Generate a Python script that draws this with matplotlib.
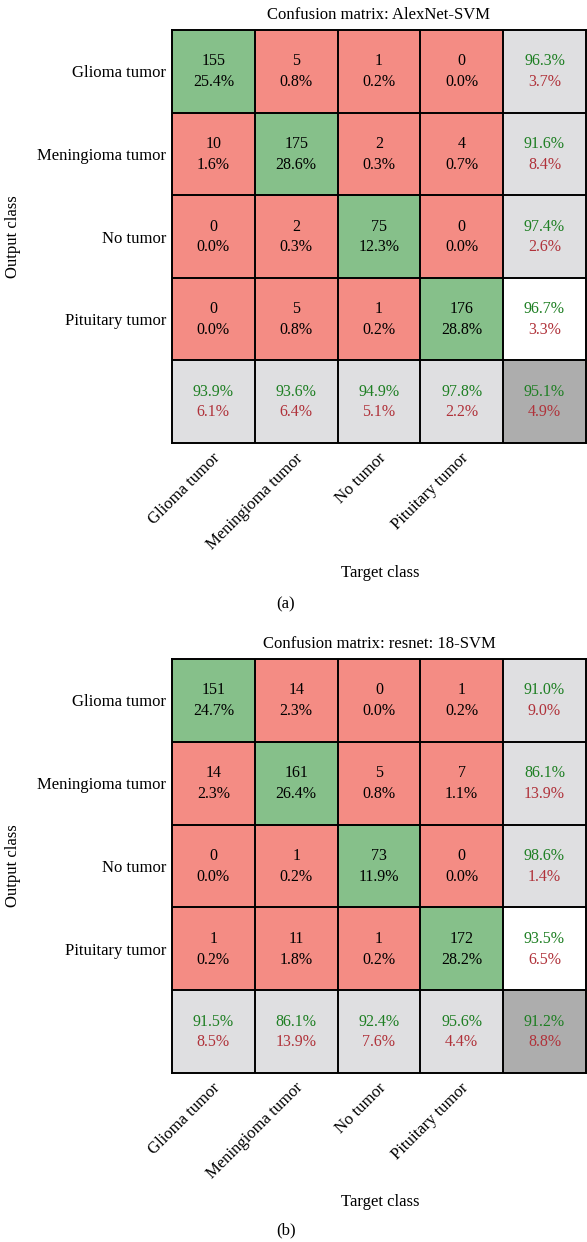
import numpy as np
import matplotlib.pyplot as plt
from matplotlib.colors import ListedColormap

classes = ["Glioma tumor", "Meningioma tumor", "No tumor", "Pituitary tumor"]

# (a) AlexNet-SVM
counts_a = [[155, 5, 1, 0],
            [10, 175, 2, 4],
            [0, 2, 75, 0],
            [0, 5, 1, 176]]
pct_a = [[25.4, 0.8, 0.2, 0.0],
         [1.6, 28.6, 0.3, 0.7],
         [0.0, 0.3, 12.3, 0.0],
         [0.0, 0.8, 0.2, 28.8]]
row_ok_a = [96.3, 91.6, 97.4, 96.7]
row_bad_a = [3.7, 8.4, 2.6, 3.3]
col_ok_a = [93.9, 93.6, 94.9, 97.8]
col_bad_a = [6.1, 6.4, 5.1, 2.2]
total_a = [95.1, 4.9]

# (b) resnet: 18-SVM
counts_b = [[151, 14, 0, 1],
            [14, 161, 5, 7],
            [0, 1, 73, 0],
            [1, 11, 1, 172]]
pct_b = [[24.7, 2.3, 0.0, 0.2],
         [2.3, 26.4, 0.8, 1.1],
         [0.0, 0.2, 11.9, 0.0],
         [0.2, 1.8, 0.2, 28.2]]
row_ok_b = [91.0, 86.1, 98.6, 93.5]
row_bad_b = [9.0, 13.9, 1.4, 6.5]
col_ok_b = [91.5, 86.1, 92.4, 95.6]
col_bad_b = [8.5, 13.9, 7.6, 4.4]
total_b = [91.2, 8.8]

GREEN = "#86c08a"
RED = "#f48c84"
GRAY = "#dfdfe1"
DARK = "#adadad"
WHITE = "#ffffff"
TXT_G = "#1e7f23"
TXT_R = "#b0323a"

plt.rcParams["font.family"] = ["Liberation Serif", "DejaVu Serif"]
cmap = ListedColormap([GREEN, RED, GRAY, DARK, WHITE])
FS = 11.5


def draw_cm(ax, title, counts, pct, row_ok, row_bad, col_ok, col_bad, total):
    n = len(counts)
    # categorie de chaque case
    cat = np.ones((n + 1, n + 1))
    for i in range(n):
        cat[i, i] = 0
        cat[i, n] = 2
        cat[n, i] = 2
    cat[n, n] = 3
    cat[n - 1, n] = 4
    ax.imshow(cat, cmap=cmap, vmin=-0.5, vmax=4.5, aspect="auto")

    for i in range(n):
        for j in range(n):
            ax.text(j, i - 0.12, f"{counts[i][j]}", ha="center", va="center", fontsize=FS)
            ax.text(j, i + 0.13, f"{pct[i][j]:.1f}%", ha="center", va="center", fontsize=FS)
        ax.text(n, i - 0.12, f"{row_ok[i]:.1f}%", ha="center", va="center", fontsize=FS, color=TXT_G)
        ax.text(n, i + 0.13, f"{row_bad[i]:.1f}%", ha="center", va="center", fontsize=FS, color=TXT_R)
        ax.text(i, n - 0.12, f"{col_ok[i]:.1f}%", ha="center", va="center", fontsize=FS, color=TXT_G)
        ax.text(i, n + 0.13, f"{col_bad[i]:.1f}%", ha="center", va="center", fontsize=FS, color=TXT_R)
    ax.text(n, n - 0.12, f"{total[0]:.1f}%", ha="center", va="center", fontsize=FS, color=TXT_G)
    ax.text(n, n + 0.13, f"{total[1]:.1f}%", ha="center", va="center", fontsize=FS, color=TXT_R)

    for k in range(n):
        ax.axhline(k + 0.5, color="black", lw=1.4)
        ax.axvline(k + 0.5, color="black", lw=1.4)
    for s in ax.spines.values():
        s.set_linewidth(1.4)

    # etiquettes de l'axe x, tournees a 45 degres
    ax.set_xticks([])
    for j in range(n):
        ax.annotate(classes[j], xy=(j, n + 0.5), xycoords="data",
                    xytext=(10, -7), textcoords="offset pixels",
                    rotation=45, ha="right", va="top", fontsize=12,
                    annotation_clip=False)
    ax.set_yticks(range(n))
    ax.set_yticklabels(classes, fontsize=12)
    ax.tick_params(length=0, pad=4)
    ax.set_title(title, fontsize=12, pad=8)


fig = plt.figure(figsize=(5.87, 12.42), dpi=100)
ax1 = fig.add_axes([0.293, 0.6433, 0.705, 0.3325])
ax2 = fig.add_axes([0.293, 0.1361, 0.705, 0.3333])

draw_cm(ax1, "Confusion matrix: AlexNet-SVM", counts_a, pct_a, row_ok_a, row_bad_a,
        col_ok_a, col_bad_a, total_a)
draw_cm(ax2, "Confusion matrix: resnet: 18-SVM", counts_b, pct_b, row_ok_b, row_bad_b,
        col_ok_b, col_bad_b, total_b)

# titres des axes et sous-legendes
for yc, yt, yl, lab in [(237, 573, 604, "(a)"), (866, 1202, 1230, "(b)")]:
    fig.text(13 / 587, 1 - yc / 1242, "Output class", rotation=90, ha="center", va="center", fontsize=12)
    fig.text(380 / 587, 1 - yt / 1242, "Target class", ha="center", va="center", fontsize=12)
    fig.text(286 / 587, 1 - yl / 1242, lab, ha="center", va="center", fontsize=12)

fig.savefig("out.png", dpi=100)
